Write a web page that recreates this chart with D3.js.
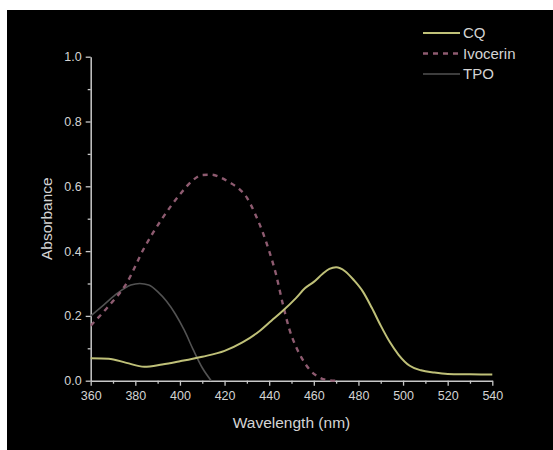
<!DOCTYPE html>
<html>
<head>
<meta charset="utf-8">
<script src="https://cdn.jsdelivr.net/npm/d3@7"></script>
<style>
html,body{margin:0;padding:0;background:#fff;}
svg{display:block;}
text{font-family:"Liberation Sans",Arial,sans-serif;}
</style>
</head>
<body>
<svg id="chart" width="553" height="450"></svg>
<script>
// Data (wavelength nm, absorbance)
const cqWavelength = [360, 368, 376, 384, 392, 400, 410, 420, 428, 436, 441, 446, 452, 456, 460, 464, 467, 470, 474, 478, 482, 486, 490, 494, 498, 503, 508, 514, 520, 530, 540];
const cqAbsorbance = [0.069, 0.068, 0.055, 0.043, 0.050, 0.060, 0.074, 0.092, 0.118, 0.155, 0.185, 0.215, 0.255, 0.285, 0.305, 0.330, 0.345, 0.350, 0.338, 0.310, 0.275, 0.225, 0.170, 0.120, 0.080, 0.046, 0.032, 0.025, 0.021, 0.020, 0.019];

const ivoWavelength = [360, 368, 376, 384, 392, 400, 406, 410, 414, 418, 422, 426, 430, 434, 437, 440, 443, 446, 449, 452, 455, 458, 462, 466, 470];
const ivoAbsorbance = [0.17, 0.23, 0.30, 0.41, 0.50, 0.575, 0.62, 0.635, 0.636, 0.628, 0.613, 0.595, 0.565, 0.51, 0.46, 0.40, 0.33, 0.24, 0.16, 0.105, 0.065, 0.035, 0.012, 0.002, 0.0];

const tpoWavelength = [360, 366, 372, 378, 382, 386, 390, 394, 398, 402, 406, 410, 414];
const tpoAbsorbance = [0.20, 0.235, 0.27, 0.295, 0.300, 0.295, 0.275, 0.245, 0.205, 0.155, 0.095, 0.040, 0.0];

const seriesNames = ["CQ", "Ivocerin", "TPO"];
const xTickValues = [360, 380, 400, 420, 440, 460, 480, 500, 520, 540];
const yTickValues = [0.0, 0.2, 0.4, 0.6, 0.8, 1.0];
const xLabel = "Wavelength (nm)";
const yLabel = "Absorbance";

const svg = d3.select("#chart");
// black panel
svg.append("rect").attr("x", 7).attr("y", 10).attr("width", 546).attr("height", 440).attr("fill", "#000");

const x = d3.scaleLinear().domain([360, 540]).range([90.7, 492.3]);
const y = d3.scaleLinear().domain([0, 1.0]).range([380.7, 56.7]);

const axisColor = "#c8c8c8";
const textColor = "#d4d4d4";

// minor ticks
const gx = svg.append("g").attr("transform", `translate(0,${y(0)})`);
gx.call(d3.axisBottom(x).tickValues(d3.range(370, 540, 20)).tickSize(3).tickFormat(""));
gx.call(g => g.select(".domain").remove());
const gy = svg.append("g").attr("transform", `translate(${x(360)},0)`);
gy.call(d3.axisLeft(y).tickValues(d3.range(0.1, 1.0, 0.2)).tickSize(3).tickFormat(""));
gy.call(g => g.select(".domain").remove());

// major axes
const ax = svg.append("g").attr("transform", `translate(0,${y(0)})`)
  .call(d3.axisBottom(x).tickValues(xTickValues).tickSize(5).tickSizeOuter(0).tickPadding(5).tickFormat(d3.format("d")));
const ay = svg.append("g").attr("transform", `translate(${x(360)},0)`)
  .call(d3.axisLeft(y).tickValues(yTickValues).tickSize(5).tickSizeOuter(0).tickPadding(4).tickFormat(d3.format(".1f")));

svg.selectAll(".tick line").attr("stroke", axisColor).attr("stroke-width", 1.3);
svg.selectAll(".domain").attr("stroke", axisColor).attr("stroke-width", 1.5);
svg.selectAll(".tick text").attr("fill", textColor).style("font-size", "12.5px").style("font-family", "Liberation Sans, Arial, sans-serif");

// axis titles
svg.append("text").attr("x", x(450)).attr("y", 428).attr("text-anchor", "middle")
  .attr("fill", textColor).style("font-size", "15.5px").text(xLabel);
svg.append("text").attr("transform", `translate(52,${y(0.5)}) rotate(-90)`).attr("text-anchor", "middle")
  .attr("fill", textColor).style("font-size", "15.5px").text(yLabel);

const line = d3.line().x(d => x(d[0])).y(d => y(d[1])).curve(d3.curveMonotoneX);

const series = [
  {name: seriesNames[0], xs: cqWavelength, ys: cqAbsorbance, color: "#bfc078", width: 2, dash: null},
  {name: seriesNames[1], xs: ivoWavelength, ys: ivoAbsorbance, color: "#8e5b70", width: 2.4, dash: "5,5"},
  {name: seriesNames[2], xs: tpoWavelength, ys: tpoAbsorbance, color: "#525252", width: 1.6, dash: null}
];

// draw in order: TPO, Ivocerin, CQ
[series[2], series[1], series[0]].forEach(s => {
  svg.append("path")
    .datum(s.xs.map((v, i) => [v, s.ys[i]]))
    .attr("d", line)
    .attr("fill", "none")
    .attr("stroke", s.color)
    .attr("stroke-width", s.width)
    .attr("stroke-dasharray", s.dash);
});

// legend
const leg = svg.append("g");
series.forEach((s, i) => {
  const yy = 33 + i * 20.5;
  leg.append("line").attr("x1", 423).attr("x2", 460).attr("y1", yy).attr("y2", yy)
    .attr("stroke", s.color).attr("stroke-width", s.width).attr("stroke-dasharray", s.dash);
  leg.append("text").attr("x", 463).attr("y", yy + 5).attr("fill", textColor)
    .style("font-size", "15px").text(s.name);
});
</script>
</body>
</html>
